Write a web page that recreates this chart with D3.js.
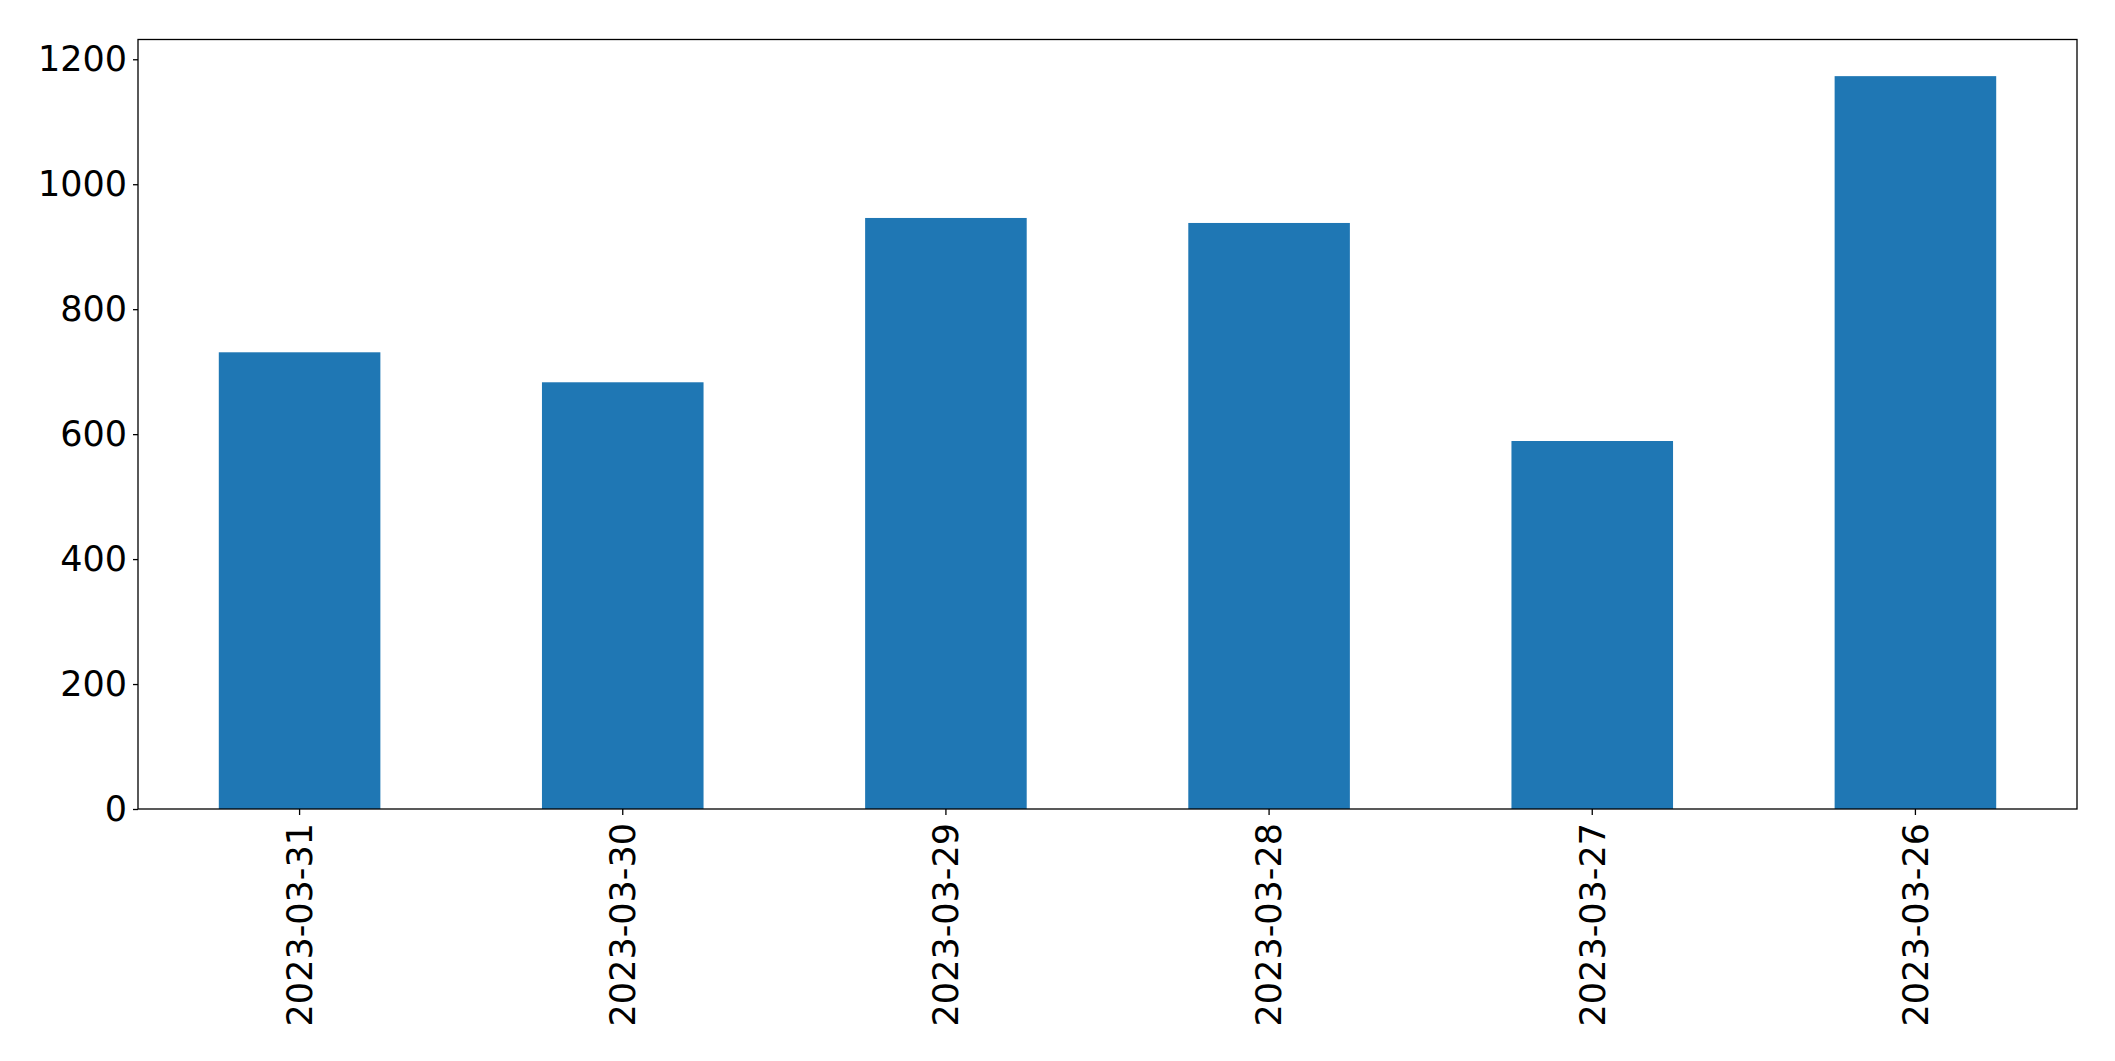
<!DOCTYPE html>
<html>
<head>
<meta charset="utf-8">
<script src="https://cdn.jsdelivr.net/npm/d3@7"></script>
<style>
  html, body { margin: 0; padding: 0; background: #fff; }
  svg { display: block; }
  text { font-family: "DejaVu Sans", sans-serif; }
</style>
</head>
<body>
<svg id="chart" width="2115" height="1061"></svg>
<script>
const categories = ["2023-03-31", "2023-03-30", "2023-03-29", "2023-03-28", "2023-03-27", "2023-03-26"];
const values = [731, 683, 946, 938, 589, 1173];
const yTicks = [0, 200, 400, 600, 800, 1000, 1200];

const W = 2115, H = 1061;
const margin = { left: 138, right: 2115 - 2077, top: 39.5, bottom: 1061 - 809 };
const svg = d3.select("#chart");
const iw = W - margin.left - margin.right;
const ih = H - margin.top - margin.bottom;
const g = svg.append("g").attr("transform", `translate(${margin.left},${margin.top})`);

const x = d3.scaleBand().domain(categories).range([0, iw]).paddingInner(0.5).paddingOuter(0.25);
const y = d3.scaleLinear().domain([0, d3.max(values) * 1.05]).range([ih, 0]);

g.selectAll("rect.bar")
  .data(categories.map((c, i) => ({ c, v: values[i] })))
  .enter().append("rect")
  .attr("class", "bar")
  .attr("x", d => x(d.c))
  .attr("width", x.bandwidth())
  .attr("y", d => y(d.v))
  .attr("height", d => y(0) - y(d.v))
  .attr("fill", "#1f77b4");

// frame
g.append("rect").attr("x", 0).attr("y", 0).attr("width", iw).attr("height", ih)
  .attr("fill", "none").attr("stroke", "#000").attr("stroke-width", 1.3);

const yAxis = g.append("g")
  .call(d3.axisLeft(y).tickValues(yTicks).tickFormat(d3.format("d")).tickSize(5).tickPadding(6));
yAxis.select(".domain").remove();
yAxis.selectAll(".tick line").attr("stroke", "#000").attr("stroke-width", 1.3);
yAxis.selectAll(".tick text").attr("font-size", 35).attr("fill", "#000")
  .attr("font-family", "DejaVu Sans, sans-serif");

const xAxis = g.append("g").attr("transform", `translate(0,${ih})`)
  .call(d3.axisBottom(x).tickSize(6).tickPadding(8));
xAxis.select(".domain").remove();
xAxis.selectAll(".tick line").attr("stroke", "#000").attr("stroke-width", 1.3);
xAxis.selectAll(".tick text")
  .attr("font-size", 35).attr("fill", "#000")
  .attr("font-family", "DejaVu Sans, sans-serif")
  .attr("text-anchor", "end")
  .attr("transform", "rotate(-90)")
  .attr("x", -14).attr("y", 0).attr("dy", "0.35em");
</script>
</body>
</html>
